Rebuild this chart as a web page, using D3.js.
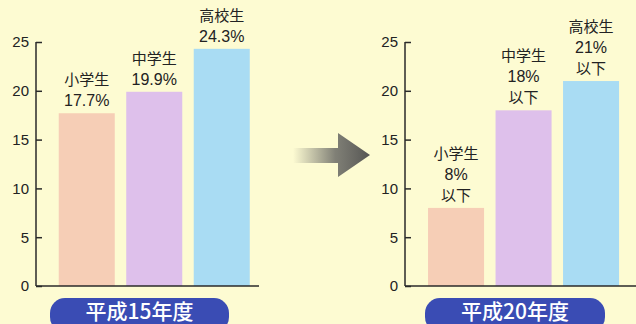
<!DOCTYPE html>
<html><head><meta charset="utf-8">
<script src="https://cdn.jsdelivr.net/npm/d3@7"></script>
<style>
html,body{margin:0;padding:0;background:#fdfbd2;}
svg{display:block;}
</style></head>
<body>
<svg id="c" width="636" height="324"></svg>
<script>
const categories = ["小学生", "中学生", "高校生"];
const valuesH15 = [17.7, 19.9, 24.3];
const labelsH15 = ["17.7%", "19.9%", "24.3%"];
const valuesH20 = [8, 18, 21];
const labelsH20 = ["8%", "18%", "21%"];
const suffixH20 = "以下";
const yTicks = [0, 5, 10, 15, 20, 25];
const panelTitles = ["平成15年度", "平成20年度"];
const barColors = ["#f6ceb6", "#dec0eb", "#a9dcf3"];

const svg = d3.select("#c");
const jp = "'Noto Sans CJK JP', 'Liberation Sans', sans-serif";
const latin = "'Liberation Sans', Arial, sans-serif";

const y = d3.scaleLinear().domain([0, 25]).range([286, 42]);

// arrow
const defs = svg.append("defs");
const g = defs.append("linearGradient").attr("id", "ag").attr("x1", "0%").attr("x2", "100%");
g.append("stop").attr("offset", "0%").attr("stop-color", "#6a6a66").attr("stop-opacity", 0);
g.append("stop").attr("offset", "55%").attr("stop-color", "#6a6a66").attr("stop-opacity", 0.85);
g.append("stop").attr("offset", "100%").attr("stop-color", "#555553").attr("stop-opacity", 1);
svg.append("path")
  .attr("d", "M293,148 L338,148 L338,133 L370,155 L338,177 L338,163 L293,163 Z")
  .attr("fill", "url(#ag)");

function panel(axisX, axisEnd, bandRange, values, labels, suffix, title, pillX0, pillX1) {
  const x = d3.scaleBand().domain(categories).range(bandRange).paddingInner(0.17).paddingOuter(0.085);
  const p = svg.append("g");
  p.selectAll("rect.bar").data(categories).join("rect")
    .attr("class", "bar")
    .attr("x", d => x(d)).attr("width", x.bandwidth())
    .attr("y", (d, i) => y(values[i])).attr("height", (d, i) => y(0) - y(values[i]))
    .attr("fill", (d, i) => barColors[i]);

  // y axis
  const ax = p.append("g").attr("transform", `translate(${axisX},0)`)
    .call(d3.axisLeft(y).tickValues(yTicks).tickSizeInner(-6).tickSizeOuter(0).tickPadding(7));
  ax.select(".domain").attr("stroke", "#2a2a2a").attr("stroke-width", 1.5);
  ax.selectAll(".tick line").attr("stroke", "#2a2a2a").attr("stroke-width", 1.5);
  ax.selectAll(".tick text").attr("font-family", latin).attr("font-size", 15).attr("fill", "#222");
  ax.select(".domain").attr("d", `M0,${y(25)}V${y(0)}`);
  // x baseline
  p.append("line").attr("x1", axisX).attr("x2", axisEnd).attr("y1", y(0)).attr("y2", y(0))
    .attr("stroke", "#2a2a2a").attr("stroke-width", 1.5);

  // labels
  categories.forEach((c, i) => {
    const lines = [c, labels[i]];
    if (suffix) lines.push(suffix);
    const cx = x(c) + x.bandwidth() / 2;
    const base = y(values[i]) - 7;
    lines.forEach((t, j) => {
      p.append("text").attr("x", cx).attr("y", base - (lines.length - 1 - j) * 21)
        .attr("text-anchor", "middle").attr("font-family", j === 1 ? latin : jp)
        .attr("font-size", j === 1 ? 16 : 15).attr("fill", "#222").text(t);
    });
  });

  // pill
  p.append("rect").attr("x", pillX0).attr("y", 298).attr("width", pillX1 - pillX0).attr("height", 34)
    .attr("rx", 15).attr("fill", "#3a4cb4");
  p.append("text").attr("x", (pillX0 + pillX1) / 2).attr("y", 319).attr("text-anchor", "middle")
    .attr("font-family", jp).attr("font-weight", 500).attr("font-size", 21).attr("fill", "#fff")
    .text(title);
}

panel(36, 259, [53, 255.5], valuesH15, labelsH15, null, panelTitles[0], 50, 229);
panel(405, 636, [422.3, 624.8], valuesH20, labelsH20, suffixH20, panelTitles[1], 425, 605);
</script>
</body></html>
